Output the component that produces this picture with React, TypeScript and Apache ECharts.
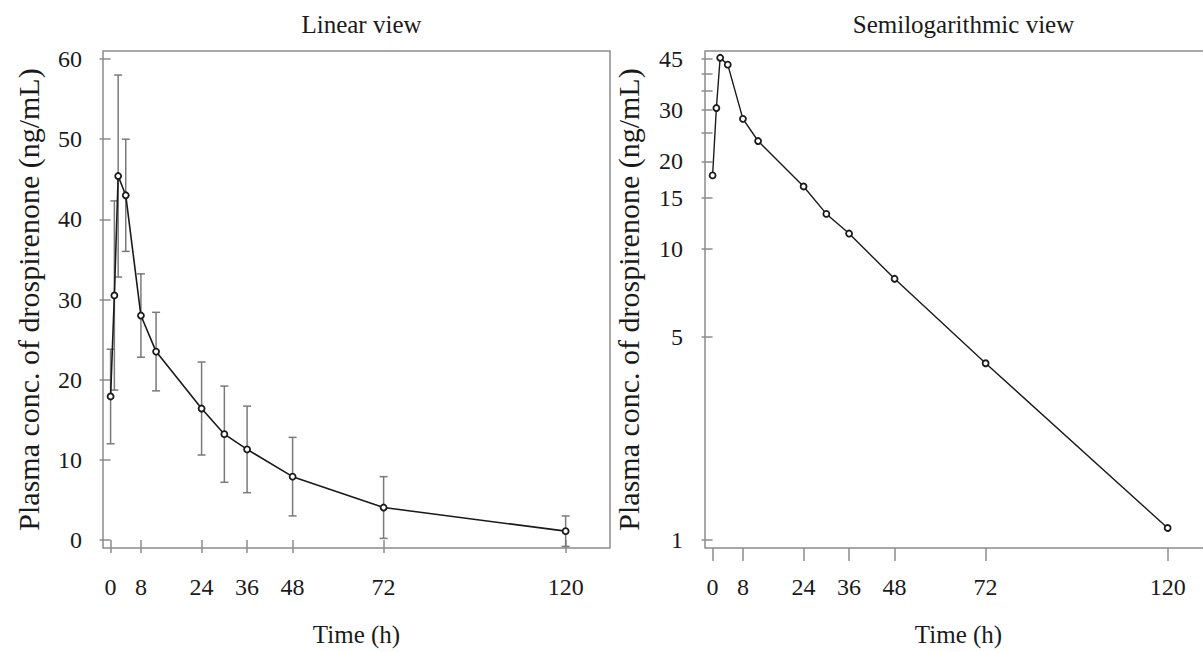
import React, { useEffect, useRef } from "react";
import * as echarts from "echarts";

const times = [0, 1, 2, 4, 8, 12, 24, 30, 36, 48, 72, 120];
const meanConc = [17.9, 30.5, 45.4, 43.0, 28.0, 23.5, 16.4, 13.2, 11.3, 7.9, 4.05, 1.1];
const sdConc = [5.9, 11.8, 12.6, 7.0, 5.2, 4.9, 5.8, 6.0, 5.4, 4.9, 3.85, 1.9];

const xTicks = [0, 8, 24, 36, 48, 72, 120];
const linTicks = [0, 10, 20, 30, 40, 50, 60];
const logTicks = [1, 5, 10, 15, 20, 25, 30, 35, 40, 45];
const logLabels = [1, 5, 10, 15, 20, 30, 45];

const FONT = '"Liberation Serif", "Times New Roman", serif';
const GRAY = "#8c8c8c";
const INK = "#1a1a1a";

export default function App() {
  const ref = useRef<HTMLDivElement>(null);
  useEffect(() => {
    if (!ref.current) return;
    const chart = echarts.init(ref.current, null, { renderer: "svg" });
    const lineData = times.map((t, i) => [t, meanConc[i]]);
    const errData = times.map((t, i) => [t, meanConc[i] - sdConc[i], meanConc[i] + sdConc[i]]);

    const xAxisBase = (gridIndex: number) => ({
      type: "value",
      gridIndex,
      min: -2,
      max: 131.7,
      name: "Time (h)",
      nameLocation: "middle",
      nameGap: 74,
      nameTextStyle: { fontFamily: FONT, fontSize: 25, color: INK },
      axisLine: { show: false },
      axisTick: { show: true, inside: false, length: 13, customValues: xTicks, lineStyle: { color: GRAY, width: 1.5 } },
      axisLabel: { customValues: xTicks, margin: 27, fontFamily: FONT, fontSize: 24, color: INK },
      splitLine: { show: false },
    });

    const yName = "Plasma conc. of drospirenone (ng/mL)";

    const option: any = {
      animation: false,
      backgroundColor: "#fff",
      title: [
        { text: "Linear view", left: 356.5, textAlign: "center", top: 7, textStyle: { fontFamily: FONT, fontSize: 25, fontWeight: "normal", color: INK } },
        { text: "Semilogarithmic view", left: 958.5, textAlign: "center", top: 7, textStyle: { fontFamily: FONT, fontSize: 25, fontWeight: "normal", color: INK } },
      ],
      grid: [
        { left: 103, top: 51, width: 507, height: 497, show: true, borderColor: GRAY, borderWidth: 1.5, backgroundColor: "transparent", outerBoundsMode: "none", containLabel: false },
        { left: 705, top: 51, width: 507, height: 497, show: true, borderColor: GRAY, borderWidth: 1.5, backgroundColor: "transparent", outerBoundsMode: "none", containLabel: false },
      ],
      xAxis: [xAxisBase(0), xAxisBase(1)],
      yAxis: [
        {
          type: "value",
          gridIndex: 0,
          min: -1,
          max: 61,
          name: yName,
          nameLocation: "middle",
          nameGap: 60,
          nameTextStyle: { fontFamily: FONT, fontSize: 30, color: INK },
          axisLine: { show: false },
          axisTick: { show: true, inside: false, length: 11, customValues: linTicks, lineStyle: { color: GRAY, width: 1.5 } },
          axisLabel: { customValues: linTicks, margin: 21, fontFamily: FONT, fontSize: 24, color: INK },
          splitLine: { show: false },
        },
        {
          type: "log",
          logBase: 10,
          gridIndex: 1,
          min: 0.939,
          max: 47.9,
          name: yName,
          nameLocation: "middle",
          nameGap: 62,
          nameTextStyle: { fontFamily: FONT, fontSize: 30, color: INK },
          axisLine: { show: false },
          axisTick: { show: true, inside: false, length: 11, customValues: logTicks, lineStyle: { color: GRAY, width: 1.5 } },
          axisLabel: { customValues: logLabels, margin: 22, fontFamily: FONT, fontSize: 24, color: INK },
          minorTick: { show: false },
          splitLine: { show: false },
        },
      ],
      series: [
        {
          type: "custom",
          xAxisIndex: 0,
          yAxisIndex: 0,
          z: 1,
          data: errData,
          renderItem: (params: any, api: any) => {
            const x = api.value(0);
            const lo = api.coord([x, api.value(1)]);
            const hi = api.coord([x, api.value(2)]);
            const w = 4;
            const style = { stroke: "#7a7a7a", lineWidth: 1.5 };
            return {
              type: "group",
              children: [
                { type: "line", shape: { x1: lo[0], y1: lo[1], x2: hi[0], y2: hi[1] }, style },
                { type: "line", shape: { x1: lo[0] - w, y1: lo[1], x2: lo[0] + w, y2: lo[1] }, style },
                { type: "line", shape: { x1: hi[0] - w, y1: hi[1], x2: hi[0] + w, y2: hi[1] }, style },
              ],
            };
          },
        },
        {
          type: "line",
          xAxisIndex: 0,
          yAxisIndex: 0,
          z: 3,
          data: lineData,
          symbol: "circle",
          symbolSize: 6,
          showSymbol: true,
          lineStyle: { color: INK, width: 1.6 },
          itemStyle: { color: "#fff", borderColor: INK, borderWidth: 1.8 },
        },
        {
          type: "line",
          xAxisIndex: 1,
          yAxisIndex: 1,
          z: 3,
          data: lineData,
          symbol: "circle",
          symbolSize: 6,
          showSymbol: true,
          lineStyle: { color: INK, width: 1.4 },
          itemStyle: { color: "#fff", borderColor: INK, borderWidth: 1.8 },
        },
      ],
    };
    chart.setOption(option);
    return () => chart.dispose();
  }, []);
  return <div ref={ref} style={{ position: "fixed", left: 0, top: 0, width: 1203, height: 652 }} />;
}
